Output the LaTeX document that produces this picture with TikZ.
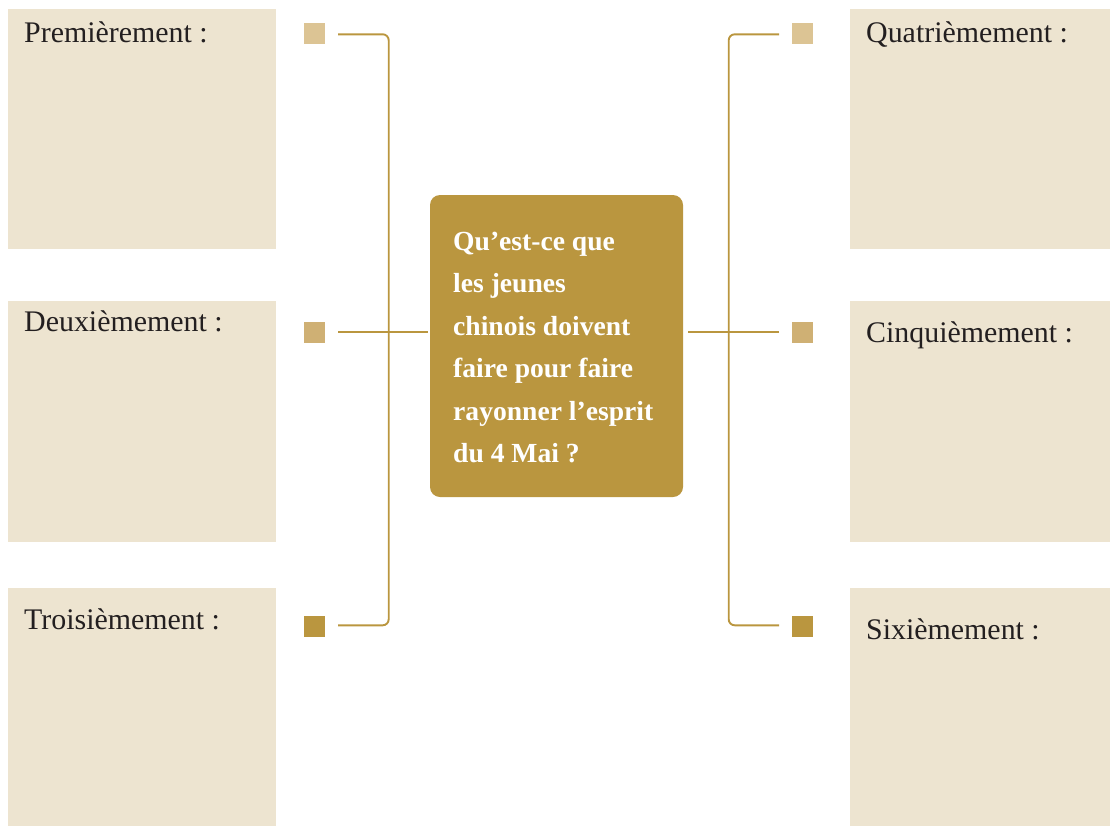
\documentclass[tikz,border=0pt]{standalone}
\usepackage{fontspec}
\setmainfont{Liberation Serif}
\definecolor{boxfill}{HTML}{EDE4D0}
\definecolor{gold}{HTML}{BA963F}
\definecolor{sqlight}{HTML}{DCC494}
\definecolor{sqmid}{HTML}{CFB074}
\definecolor{txt}{HTML}{231F20}
\tikzset{
  cbox/.style={fill=boxfill, draw=none, inner sep=0, minimum width=#1},
  lbl/.style={text=txt, inner sep=0, anchor=base west, font=\fontsize{29.9bp}{34bp}\selectfont},
  sq/.style={fill=#1, draw=none, inner sep=0, minimum size=21bp},
  conn/.style={draw=gold, line width=1.9bp},
}
\begin{document}
\begin{tikzpicture}[x=1bp,y=-1bp]
\useasboundingbox (0,0) rectangle (1110,826);
% answer boxes
\node[cbox=268bp, minimum height=240.3bp] (b1) at (142,129.15) {};
\node[cbox=268bp, minimum height=240.5bp] (b2) at (142,421.25) {};
\node[cbox=268bp, minimum height=238bp] (b3) at (142,707) {};
\node[cbox=260bp, minimum height=240.3bp] (b4) at (980,129.15) {};
\node[cbox=260bp, minimum height=240.5bp] (b5) at (980,421.25) {};
\node[cbox=260bp, minimum height=238bp] (b6) at (980,707) {};
% labels
\node[lbl] (t1) at (24,42.5) {Premièrement :};
\node[lbl] (t2) at (24,331.5) {Deuxièmement :};
\node[lbl] (t3) at (24,629) {Troisièmement :};
\node[lbl] (t4) at (866,42.5) {Quatrièmement :};
\node[lbl] (t5) at (866,342) {Cinquièmement :};
\node[lbl] (t6) at (866,639) {Sixièmement :};
% central question
\node[fill=gold, draw=none, rounded corners=10bp, inner sep=0, minimum width=253bp, minimum height=302bp] (q) at (556.5,346) {};
\node[text=white, inner sep=0, anchor=north west, align=left,
  font=\fontsize{27.6bp}{42.4bp}\selectfont\bfseries] (qt) at (453,232)
  {Qu’est-ce que\\les jeunes\\chinois doivent\\faire pour faire\\rayonner l’esprit\\du 4 Mai ?};
% squares
\node[sq=sqlight] (s1) at (314.5,33) {};
\node[sq=sqmid] (s2) at (314.5,332.5) {};
\node[sq=gold] (s3) at (314.5,626.5) {};
\node[sq=sqlight] (s4) at (802.5,33) {};
\node[sq=sqmid] (s5) at (802.5,332.5) {};
\node[sq=gold] (s6) at (802.5,626.5) {};
% connector points
\coordinate (l1) at (338,34.3);
\coordinate (lt) at (388.7,34.3);
\coordinate (lb) at (388.7,625.3);
\coordinate (l3) at (338,625.3);
\coordinate (l2) at (338,332.3);
\coordinate (r1) at (779,34.3);
\coordinate (rt) at (728.7,34.3);
\coordinate (rb) at (728.7,625.3);
\coordinate (r3) at (779,625.3);
\coordinate (r2) at (779,332.3);
\draw[conn, rounded corners=6bp] (l1) -- (lt) -- (lb) -- (l3);
\draw[conn] (l2) -- ([xshift=-1.5bp]l2 -| q.west);
\draw[conn, rounded corners=6bp] (r1) -- (rt) -- (rb) -- (r3);
\draw[conn] (r2) -- ([xshift=5bp]r2 -| q.east);
\end{tikzpicture}
\end{document}
